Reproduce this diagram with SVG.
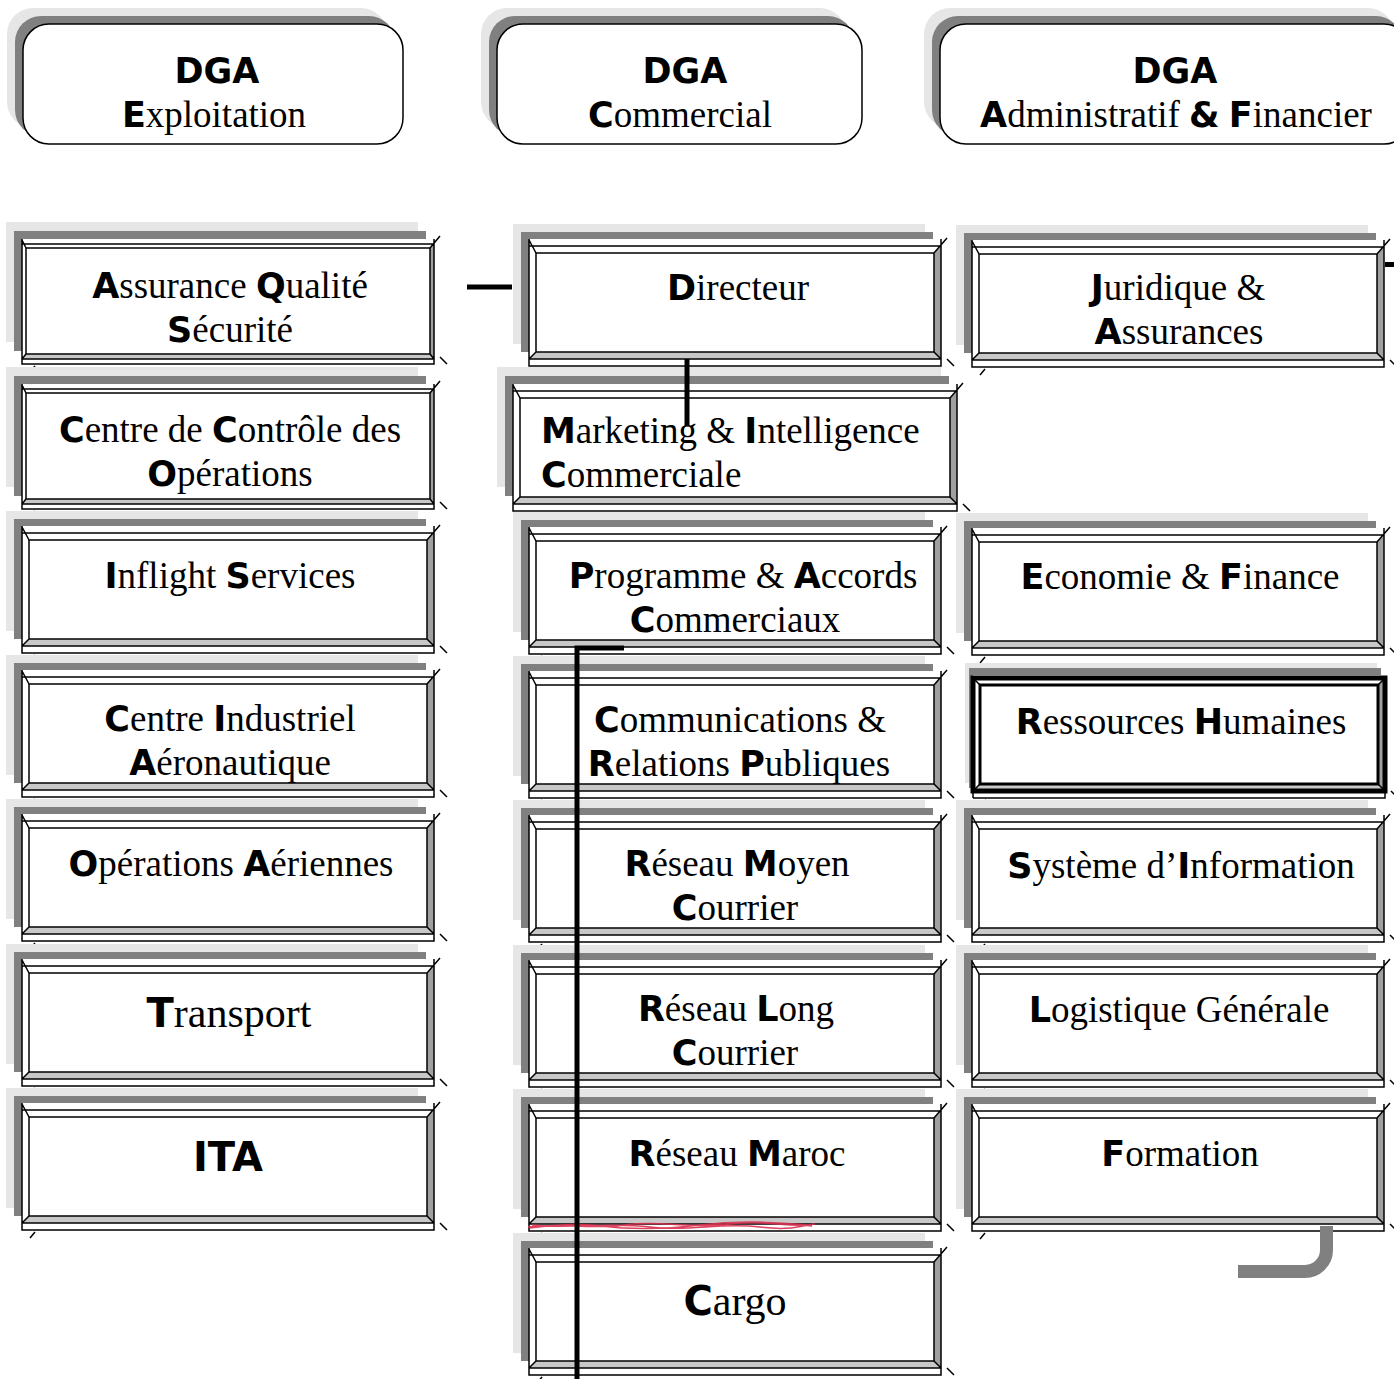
<svg xmlns="http://www.w3.org/2000/svg" xmlns:xlink="http://www.w3.org/1999/xlink" width="1394" height="1379" viewBox="0 0 1394 1379">
<style>
.t{font-family:"Liberation Serif","Times New Roman",serif;font-size:37px;fill:#000;text-anchor:middle}
.l{text-anchor:start}
.b{font-family:"DejaVu Sans","Liberation Sans",sans-serif;font-weight:bold;font-size:35px}
.big{font-size:42px}
.bigb{font-family:"DejaVu Sans","Liberation Sans",sans-serif;font-weight:bold;font-size:40px}
.ln{fill:none;stroke:#000;stroke-width:1.5}
.hd{fill:#fff;stroke:#000;stroke-width:1.5}
</style>
<defs>
<g id="boxStd">
<rect x="-16" y="-22" width="412" height="120" fill="#e6e6e6"/>
<rect x="-8" y="-14" width="412" height="120" fill="#808080"/>
<rect x="0" y="-7" width="412" height="127" fill="#fff"/>
<polygon points="405,7 412,0 412,113 405,106" fill="#a0a0a0"/>
<polygon points="0,113 7,106 405,106 412,113" fill="#c8c8c8"/>
<path class="ln" d="M0,-7V120H412V-7M0,0H412M0,113H412M0,-6L7,7M405,7L418,-8M0,113L7,106M412,113L405,106M418,113L425,120M8,128L13,122"/>
<rect class="ln" x="7" y="7" width="398" height="99"/>
</g>
<g id="boxThin">
<rect x="-16" y="-22" width="412" height="120" fill="#e6e6e6"/>
<rect x="-8" y="-13" width="412" height="120" fill="#808080"/>
<rect x="0" y="-5" width="412" height="125" fill="#fff"/>
<polygon points="408,4 412,0 412,115 408,110" fill="#a0a0a0"/>
<polygon points="0,115 4,110 408,110 412,115" fill="#c8c8c8"/>
<path class="ln" d="M0,-5V120H412V-5M0,0H412M0,115H412M0,-4L4,4M408,4L418,-8M0,115L4,110M412,115L408,110M418,113L425,120M8,128L13,122"/>
<rect class="ln" x="4" y="4" width="404" height="106"/>
</g>
<g id="boxWide">
<rect x="-16" y="-24" width="444" height="120" fill="#e6e6e6"/>
<rect x="-8" y="-15" width="444" height="120" fill="#808080"/>
<rect x="0" y="-7" width="444" height="127" fill="#fff"/>
<polygon points="437,7 444,0 444,113 437,106" fill="#a0a0a0"/>
<polygon points="0,113 7,106 437,106 444,113" fill="#c8c8c8"/>
<path class="ln" d="M0,-7V120H444V-7M0,0H444M0,113H444M0,-6L7,7M437,7L450,-8M0,113L7,106M444,113L437,106M450,113L457,120M8,128L13,122"/>
<rect class="ln" x="7" y="7" width="430" height="99"/>
</g>
<g id="boxThick">
<rect x="-8" y="-15" width="412" height="120" fill="#e6e6e6"/>
<rect x="-4" y="-10" width="412" height="120" fill="#808080"/>
<rect x="0" y="-3" width="412" height="123" fill="#fff"/>
<polygon points="405,7 412,0 412,113 405,106" fill="#a0a0a0"/>
<polygon points="0,113 7,106 405,106 412,113" fill="#c8c8c8"/>
<path class="ln" d="M0,120H412V113M0,113V120"/>
<rect x="0" y="0" width="412" height="113" fill="none" stroke="#000" stroke-width="5"/>
<rect x="7" y="7" width="398" height="99" fill="none" stroke="#000" stroke-width="3"/>
<path class="ln" d="M0,0L7,7M412,0L405,7M0,113L7,106M412,113L405,106M418,113L425,120M8,128L13,122"/>
</g>
</defs>
<rect width="1394" height="1379" fill="#fff"/>

<!-- Headers -->
<g id="dga-exploitation">
<rect x="7" y="8" width="380" height="120" rx="26" fill="#e6e6e6"/>
<rect x="15" y="16" width="380" height="120" rx="26" fill="#808080"/>
<rect class="hd" x="23" y="24" width="380" height="120" rx="26"/>
<text class="t" x="217" y="83"><tspan class="b">DGA</tspan></text>
<text class="t" x="214" y="127"><tspan class="b">E</tspan>xploitation</text>
</g>
<g id="dga-commercial">
<rect x="481" y="8" width="365" height="120" rx="26" fill="#e6e6e6"/>
<rect x="489" y="16" width="365" height="120" rx="26" fill="#808080"/>
<rect class="hd" x="497" y="24" width="365" height="120" rx="26"/>
<text class="t" x="685" y="83"><tspan class="b">DGA</tspan></text>
<text class="t" x="680" y="127"><tspan class="b">C</tspan>ommercial</text>
</g>
<g id="dga-admin">
<rect x="924" y="8" width="470" height="120" rx="26" fill="#e6e6e6"/>
<rect x="932" y="16" width="470" height="120" rx="26" fill="#808080"/>
<rect class="hd" x="940" y="24" width="470" height="120" rx="26"/>
<text class="t" x="1175" y="83"><tspan class="b">DGA</tspan></text>
<text class="t" x="1176" y="127"><tspan class="b">A</tspan>dministratif <tspan class="b">&amp;</tspan> <tspan class="b">F</tspan>inancier</text>
</g>

<!-- Column 1 -->
<g id="assurance-qualite">
<use href="#boxThin" x="22" y="244"/>
<text class="t" x="230" y="298"><tspan class="b">A</tspan>ssurance <tspan class="b">Q</tspan>ualité</text>
<text class="t" x="230" y="342"><tspan class="b">S</tspan>écurité</text>
</g>
<g id="centre-controle">
<use href="#boxThin" x="22" y="389"/>
<text class="t" x="230" y="442"><tspan class="b">C</tspan>entre de <tspan class="b">C</tspan>ontrôle des</text>
<text class="t" x="230" y="486"><tspan class="b">O</tspan>pérations</text>
</g>
<g id="inflight">
<use href="#boxStd" x="22" y="533"/>
<text class="t" x="230" y="588"><tspan class="b">I</tspan>nflight <tspan class="b">S</tspan>ervices</text>
</g>
<g id="centre-industriel">
<use href="#boxStd" x="22" y="677"/>
<text class="t" x="230" y="731"><tspan class="b">C</tspan>entre <tspan class="b">I</tspan>ndustriel</text>
<text class="t" x="230" y="775"><tspan class="b">A</tspan>éronautique</text>
</g>
<g id="operations-aeriennes">
<use href="#boxStd" x="22" y="821"/>
<text class="t" x="231" y="876"><tspan class="b">O</tspan>pérations <tspan class="b">A</tspan>ériennes</text>
</g>
<g id="transport">
<use href="#boxStd" x="22" y="966"/>
<text class="t big" x="229" y="1027"><tspan class="bigb">T</tspan>ransport</text>
</g>
<g id="ita">
<use href="#boxStd" x="22" y="1110"/>
<text class="t big" x="228" y="1171"><tspan class="bigb">ITA</tspan></text>
</g>

<!-- Column 2 -->
<g id="directeur">
<use href="#boxStd" x="529" y="246"/>
<text class="t" x="738" y="300"><tspan class="b">D</tspan>irecteur</text>
</g>
<g id="marketing">
<use href="#boxWide" x="513" y="391"/>
<text class="t l" x="541" y="443"><tspan class="b">M</tspan>arketing &amp; <tspan class="b">I</tspan>ntelligence</text>
<text class="t l" x="541" y="487"><tspan class="b">C</tspan>ommerciale</text>
</g>
<g id="programme">
<use href="#boxStd" x="529" y="534"/>
<text class="t" x="743" y="588"><tspan class="b">P</tspan>rogramme &amp; <tspan class="b">A</tspan>ccords</text>
<text class="t" x="735" y="632"><tspan class="b">C</tspan>ommerciaux</text>
</g>
<g id="communications">
<use href="#boxStd" x="529" y="678"/>
<text class="t" x="740" y="732"><tspan class="b">C</tspan>ommunications &amp;</text>
<text class="t" x="739" y="776"><tspan class="b">R</tspan>elations <tspan class="b">P</tspan>ubliques</text>
</g>
<g id="reseau-moyen">
<use href="#boxStd" x="529" y="822"/>
<text class="t" x="737" y="876"><tspan class="b">R</tspan>éseau <tspan class="b">M</tspan>oyen</text>
<text class="t" x="735" y="920"><tspan class="b">C</tspan>ourrier</text>
</g>
<g id="reseau-long">
<use href="#boxStd" x="529" y="967"/>
<text class="t" x="736" y="1021"><tspan class="b">R</tspan>éseau <tspan class="b">L</tspan>ong</text>
<text class="t" x="735" y="1065"><tspan class="b">C</tspan>ourrier</text>
</g>
<g id="reseau-maroc">
<use href="#boxStd" x="529" y="1111"/>
<text class="t" x="737" y="1166"><tspan class="b">R</tspan>éseau <tspan class="b">M</tspan>aroc</text>
<path d="M528,1227 C560,1222 590,1230 625,1225 S690,1229 730,1224 S790,1229 815,1224 M532,1225 C570,1229 610,1222 650,1227 S720,1222 760,1227 S800,1223 812,1226 M530,1228 C555,1225 575,1223 600,1226 S660,1230 700,1225 S770,1222 808,1225" fill="none" stroke="#d8304f" stroke-width="1.5" opacity="0.9"/>
</g>
<g id="cargo">
<use href="#boxStd" x="529" y="1255"/>
<text class="t big" x="735" y="1315"><tspan class="bigb">C</tspan>argo</text>
</g>

<!-- Column 3 -->
<g id="juridique">
<use href="#boxStd" x="972" y="247"/>
<text class="t" x="1178" y="300"><tspan class="b">J</tspan>uridique &amp;</text>
<text class="t" x="1179" y="344"><tspan class="b">A</tspan>ssurances</text>
</g>
<g id="economie">
<use href="#boxStd" x="972" y="535"/>
<text class="t" x="1180" y="589"><tspan class="b">E</tspan>conomie &amp; <tspan class="b">F</tspan>inance</text>
</g>
<g id="ressources-humaines">
<use href="#boxThick" x="973" y="678"/>
<text class="t" x="1181" y="734"><tspan class="b">R</tspan>essources <tspan class="b">H</tspan>umaines</text>
</g>
<g id="systeme-information">
<use href="#boxStd" x="972" y="822"/>
<text class="t" x="1181" y="878"><tspan class="b">S</tspan>ystème d’<tspan class="b">I</tspan>nformation</text>
</g>
<g id="logistique">
<use href="#boxStd" x="972" y="967"/>
<text class="t" x="1179" y="1022"><tspan class="b">L</tspan>ogistique Générale</text>
</g>
<g id="formation">
<use href="#boxStd" x="972" y="1111"/>
<text class="t" x="1180" y="1166"><tspan class="b">F</tspan>ormation</text>
</g>

<!-- Connectors -->
<g id="connectors" fill="none" stroke="#000" stroke-width="5" stroke-linejoin="miter">
<line x1="467" y1="287" x2="512" y2="287"/>
<line x1="687" y1="359" x2="687" y2="426"/>
<path d="M624,648H577V1379"/>
<line x1="1385" y1="264.5" x2="1394" y2="264.5"/>
<path d="M1326.5,1226V1250A21.5,21.5 0 0 1 1305,1271.5H1238" stroke="#808080" stroke-width="13"/>
</g>
</svg>
